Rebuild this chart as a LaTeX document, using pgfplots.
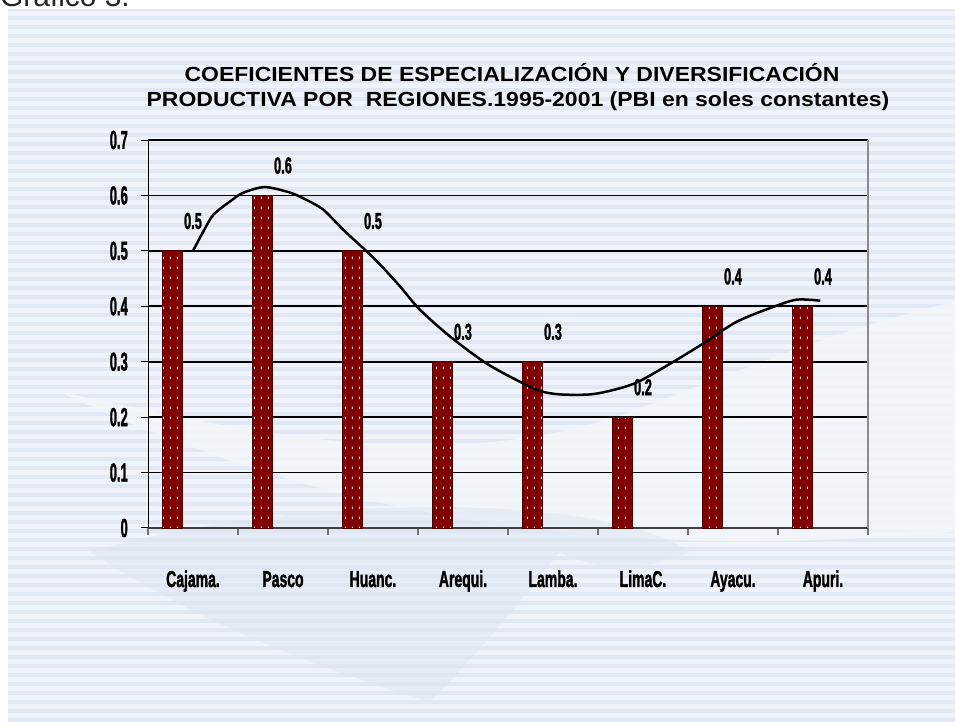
\documentclass[border=0pt]{standalone}
\usepackage{fontspec}
\setmainfont{Liberation Sans}
\newfontfamily\heavy{Liberation Sans Bold}[FakeBold=2]
\usepackage{pgfplots}
\pgfplotsset{compat=1.18}
\usetikzlibrary{patterns}
\definecolor{barred}{HTML}{800000}
\definecolor{baredge}{HTML}{4A0000}
\definecolor{dotcol}{HTML}{F0D0D0}
\definecolor{bgbase}{HTML}{F0F4FA}
\definecolor{bgstripe}{HTML}{E0E9F3}
\definecolor{wmark}{HTML}{F3F7FB}
\definecolor{wmark2}{HTML}{DDE6F1}
\pgfdeclarepatternformonly{reddots}{\pgfqpoint{0pt}{0pt}}{\pgfqpoint{6.7pt}{10pt}}{\pgfqpoint{6.7pt}{10pt}}{%
  \pgfpathrectangle{\pgfqpoint{3pt}{4pt}}{\pgfqpoint{1pt}{2.4pt}}\pgfusepath{fill}}
\pgfdeclarepatternformonly{hstripes}{\pgfqpoint{0pt}{0pt}}{\pgfqpoint{10pt}{9pt}}{\pgfqpoint{10pt}{9pt}}{%
  \pgfpathrectangle{\pgfqpoint{0pt}{0pt}}{\pgfqpoint{10pt}{4pt}}\pgfusepath{fill}}
\newcommand{\nX}[1]{\scalebox{0.61}[1]{#1}}
\newcommand{\nY}[1]{\scalebox{0.5}[1]{#1}}
\newcommand{\nD}[1]{\scalebox{0.56}[1]{#1}}
\newcommand{\wT}[1]{\scalebox{1.125}[1]{#1}}
\begin{document}
\begin{tikzpicture}
\useasboundingbox (0,0) rectangle (955bp,722bp);
\fill[white] (0,0) rectangle (955bp,722bp);
\fill[bgbase] (8bp,0) rectangle (955bp,712bp);
\fill[pattern=hstripes, pattern color=bgstripe] (8bp,0) rectangle (955bp,712bp);
% pale watermark areas
\fill[wmark, opacity=0.85] (60bp,330bp) .. controls (250bp,290bp) and (420bp,250bp) .. (600bp,300bp)
  .. controls (720bp,340bp) and (820bp,390bp) .. (955bp,420bp) -- (955bp,190bp)
  .. controls (700bp,170bp) and (400bp,170bp) .. (60bp,330bp) -- cycle;
\fill[wmark2, opacity=0.5] (90bp,170bp) .. controls (200bp,100bp) and (300bp,60bp) .. (430bp,20bp)
  .. controls (470bp,60bp) and (520bp,120bp) .. (560bp,170bp)
  .. controls (600bp,150bp) and (640bp,150bp) .. (690bp,170bp)
  .. controls (600bp,230bp) and (300bp,230bp) .. (90bp,170bp) -- cycle;
\node[anchor=base west, inner sep=0pt, font=\fontsize{30}{30}\selectfont, text=black!85] at (0bp,715bp) {Gráfico 3.};
\node[anchor=base, inner sep=0pt, font=\fontsize{20.5}{24}\selectfont\bfseries] at (512bp,640bp) {\wT{COEFICIENTES DE ESPECIALIZACIÓN Y DIVERSIFICACIÓN}};
\node[anchor=base, inner sep=0pt, font=\fontsize{20.5}{24}\selectfont\bfseries] at (518bp,615bp) {\wT{PRODUCTIVA POR \ REGIONES.1995-2001 (PBI en soles constantes)}};
\begin{axis}[
  at={(148bp,194bp)}, anchor=south west,
  scale only axis, width=720bp, height=388bp,
  xmin=-0.5, xmax=7.5, ymin=0, ymax=0.7,
  /pgf/number format/assume math mode=true,
  axis x line*=bottom, axis y line*=left,
  x axis line style={draw=black!75, line width=1.6bp},
  y axis line style={draw=black, line width=1bp},
  tick align=outside, major tick length=7bp,
  xtick={-0.5,0.5,1.5,2.5,3.5,4.5,5.5,6.5,7.5},
  xticklabels={\nX{Cajama.},\nX{Pasco},\nX{Huanc.},\nX{Arequi.},\nX{Lamba.},\nX{LimaC.},\nX{Ayacu.},\nX{Apuri.},{}},
  xticklabel style={anchor=base, xshift=45bp, yshift=-52bp, inner sep=0pt, font=\fontsize{23}{24}\selectfont\heavy},
  x tick style={draw=black!55, line width=1.2bp},
  ytick={0,0.1,0.2,0.3,0.4,0.5,0.6,0.7},
  yticklabels={\nY{0},\nY{0.1},\nY{0.2},\nY{0.3},\nY{0.4},\nY{0.5},\nY{0.6},\nY{0.7}},
  yticklabel style={anchor=east, xshift=-13bp, inner sep=0pt, font=\fontsize{26}{27}\selectfont\heavy},
  y tick style={draw=black, line width=1bp},
  ymajorgrids, y grid style={draw=black, line width=1.8bp},
  clip=false,
]
\addplot[ybar, bar width=20bp, bar shift=-21bp, fill=barred, draw=baredge, line width=0.8bp,
  postaction={pattern=reddots, pattern color=dotcol},
  nodes near coords={\nD{\pgfmathprintnumber{\pgfplotspointmeta}}},
  every node near coord/.append style={anchor=base, yshift=22bp, inner sep=0pt, text=black, font=\fontsize{23}{24}\selectfont\heavy}]
  coordinates {(0,0.5) (1,0.6) (2,0.5) (3,0.3) (4,0.3) (5,0.2) (6,0.4) (7,0.4)};
\addplot[smooth, black, line width=2.5bp, no marks] coordinates {
  (0,0.500) (0.115,0.535) (0.226,0.565) (0.41,0.589) (0.56,0.605) (0.8,0.615)
  (1.08,0.605) (1.26,0.592) (1.45,0.574) (1.67,0.538) (1.93,0.499) (2.08,0.475)
  (2.3,0.436) (2.52,0.394) (2.86,0.345) (3.26,0.297) (3.63,0.264) (3.86,0.247)
  (4.08,0.241) (4.41,0.241) (4.67,0.249) (4.95,0.264) (5.37,0.303) (5.67,0.333)
  (6.04,0.372) (6.45,0.399) (6.71,0.412) (6.97,0.41)};
\draw[black!45, line width=1.5bp] (rel axis cs:1,0) -- (rel axis cs:1,1);
\end{axis}
\end{tikzpicture}
\end{document}
